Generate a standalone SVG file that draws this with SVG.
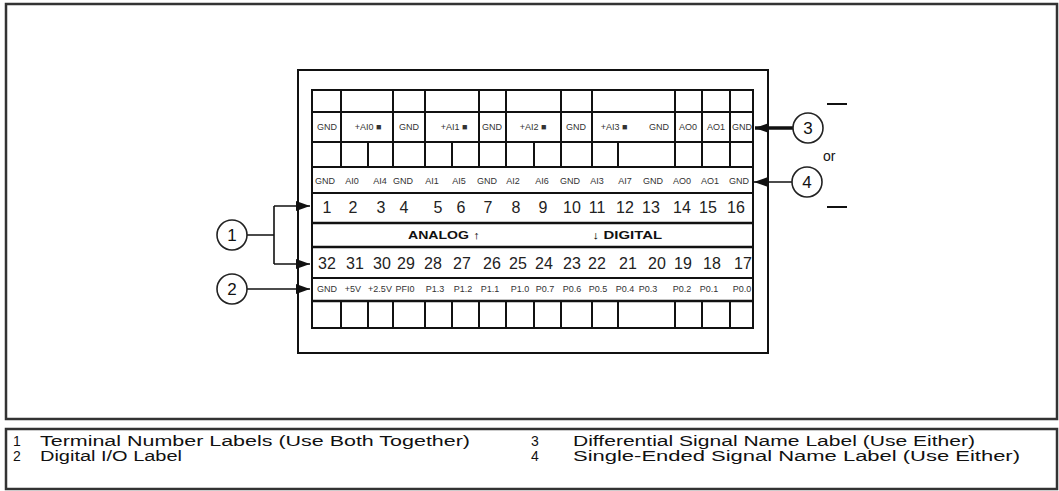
<svg xmlns="http://www.w3.org/2000/svg" width="1059" height="491" viewBox="0 0 1059 491">
<defs>
<marker id="ah" markerUnits="userSpaceOnUse" markerWidth="14" markerHeight="10" refX="14" refY="5" orient="auto">
<path d="M0,0 L14,5 L0,10 z" fill="#111"/>
</marker>
</defs>
<style>
.frame{fill:#fff;stroke:#333;stroke-width:2.5}
.ln{stroke:#111;stroke-width:2;fill:none}
.thk{stroke:#111;stroke-width:2.6;fill:none}
.sm{font-family:"Liberation Sans",Arial,sans-serif;font-size:9px;fill:#333;text-anchor:middle}
.num{font-family:"Liberation Sans",Arial,sans-serif;font-size:16px;fill:#222;text-anchor:middle}
.ad{font-family:"Liberation Sans",Arial,sans-serif;font-size:11px;font-weight:bold;fill:#111;text-anchor:middle}
.leg{font-family:"Liberation Sans",Arial,sans-serif;font-size:14px;fill:#111}
.call{fill:#fff;stroke:#222;stroke-width:1.6}
.cn{font-family:"Liberation Sans",Arial,sans-serif;font-size:17px;fill:#111;text-anchor:middle}
.con{stroke:#111;stroke-width:1.6;fill:none}
</style>
<rect class="frame" x="6" y="4" width="1051" height="415"/>
<rect class="frame" x="6" y="429" width="1051" height="60"/>

<g id="panel">
<rect x="298" y="70" width="470" height="283" fill="#fff" stroke="#111" stroke-width="2"/>
<rect class="ln" x="312" y="90" width="441" height="238"/>
<path class="ln" d="M312,112H753 M312,142H753 M312,167H753 M312,193H753"/>
<path class="thk" d="M312,223H753 M312,247H753 M312,301H753"/>
<path class="ln" d="M312,278H753"/>
<path class="ln" d="M341,90V142 M393,90V142 M425,90V142 M479,90V142 M506,90V142 M561,90V142 M592,90V142 M675,90V142 M702,90V142 M730,90V142"/>
<path class="ln" d="M341,142V167 M368,142V167 M393,142V167 M425,142V167 M452,142V167 M479,142V167 M506,142V167 M534,142V167 M561,142V167 M592,142V167 M618,142V167 M675,142V167 M702,142V167 M730,142V167"/>
<path class="ln" d="M341,301V328 M368,301V328 M393,301V328 M425,301V328 M452,301V328 M479,301V328 M506,301V328 M534,301V328 M561,301V328 M592,301V328 M618,301V328 M675,301V328 M702,301V328 M730,301V328"/>

<g id="diff-labels">
<text class="sm" x="327" y="130">GND</text>
<text class="sm" x="368" y="130">+AI0 ■</text>
<text class="sm" x="409" y="130">GND</text>
<text class="sm" x="454" y="130">+AI1 ■</text>
<text class="sm" x="492" y="130">GND</text>
<text class="sm" x="533" y="130">+AI2 ■</text>
<text class="sm" x="576" y="130">GND</text>
<text class="sm" x="614" y="130">+AI3 ■</text>
<text class="sm" x="659" y="130">GND</text>
<text class="sm" x="688" y="130">AO0</text>
<text class="sm" x="716" y="130">AO1</text>
<text class="sm" x="742" y="130">GND</text>
</g>
<g id="se-labels">
<text class="sm" x="325" y="184">GND</text>
<text class="sm" x="352" y="184">AI0</text>
<text class="sm" x="380" y="184">AI4</text>
<text class="sm" x="403" y="184">GND</text>
<text class="sm" x="432" y="184">AI1</text>
<text class="sm" x="459" y="184">AI5</text>
<text class="sm" x="487" y="184">GND</text>
<text class="sm" x="513" y="184">AI2</text>
<text class="sm" x="542" y="184">AI6</text>
<text class="sm" x="570" y="184">GND</text>
<text class="sm" x="597" y="184">AI3</text>
<text class="sm" x="625" y="184">AI7</text>
<text class="sm" x="653" y="184">GND</text>
<text class="sm" x="682" y="184">AO0</text>
<text class="sm" x="710" y="184">AO1</text>
<text class="sm" x="739" y="184">GND</text>
</g>
<g id="numbers-top">
<text class="num" x="327" y="213">1</text>
<text class="num" x="353" y="213">2</text>
<text class="num" x="381" y="213">3</text>
<text class="num" x="404" y="213">4</text>
<text class="num" x="438" y="213">5</text>
<text class="num" x="461" y="213">6</text>
<text class="num" x="488" y="213">7</text>
<text class="num" x="516" y="213">8</text>
<text class="num" x="543" y="213">9</text>
<text class="num" x="572" y="213">10</text>
<text class="num" x="597" y="213">11</text>
<text class="num" x="625" y="213">12</text>
<text class="num" x="651" y="213">13</text>
<text class="num" x="682" y="213">14</text>
<text class="num" x="708" y="213">15</text>
<text class="num" x="736" y="213">16</text>
</g>
<g id="analog-digital">
<text class="ad" x="444" y="239" textLength="72" lengthAdjust="spacingAndGlyphs">ANALOG ↑</text>
<text class="ad" x="627" y="239" textLength="70" lengthAdjust="spacingAndGlyphs">↓ DIGITAL</text>
</g>
<g id="numbers-bottom">
<text class="num" x="327" y="269">32</text>
<text class="num" x="355" y="269">31</text>
<text class="num" x="382" y="269">30</text>
<text class="num" x="406" y="269">29</text>
<text class="num" x="433" y="269">28</text>
<text class="num" x="462" y="269">27</text>
<text class="num" x="492" y="269">26</text>
<text class="num" x="518" y="269">25</text>
<text class="num" x="544" y="269">24</text>
<text class="num" x="572" y="269">23</text>
<text class="num" x="597" y="269">22</text>
<text class="num" x="628" y="269">21</text>
<text class="num" x="657" y="269">20</text>
<text class="num" x="683" y="269">19</text>
<text class="num" x="712" y="269">18</text>
<text class="num" x="743" y="269">17</text>
</g>
<g id="dio-labels">
<text class="sm" x="327" y="292">GND</text>
<text class="sm" x="353" y="292">+5V</text>
<text class="sm" x="380" y="292">+2.5V</text>
<text class="sm" x="405" y="292">PFI0</text>
<text class="sm" x="435" y="292">P1.3</text>
<text class="sm" x="463" y="292">P1.2</text>
<text class="sm" x="490" y="292">P1.1</text>
<text class="sm" x="520" y="292">P1.0</text>
<text class="sm" x="545" y="292">P0.7</text>
<text class="sm" x="572" y="292">P0.6</text>
<text class="sm" x="598" y="292">P0.5</text>
<text class="sm" x="625" y="292">P0.4</text>
<text class="sm" x="648" y="292">P0.3</text>
<text class="sm" x="682" y="292">P0.2</text>
<text class="sm" x="709" y="292">P0.1</text>
<text class="sm" x="742" y="292">P0.0</text>
</g>
</g>

<g id="connectors">
<path class="con" d="M247,235H274 M274,206V264"/>
<line class="con" x1="274" y1="206" x2="310" y2="206" marker-end="url(#ah)"/>
<line class="con" x1="274" y1="264" x2="310" y2="264" marker-end="url(#ah)"/>
<line class="con" x1="247" y1="289" x2="310" y2="289" marker-end="url(#ah)"/>
<line x1="793" y1="128" x2="755" y2="128" stroke="#111" stroke-width="3.5" marker-end="url(#ah)"/>
<line class="con" x1="792" y1="182" x2="754" y2="182" marker-end="url(#ah)"/>
</g>

<g id="callout-1"><circle class="call" cx="232" cy="235" r="15"/><text class="cn" x="232" y="241">1</text></g>
<g id="callout-2"><circle class="call" cx="232" cy="289" r="15"/><text class="cn" x="232" y="295">2</text></g>
<g id="callout-3"><circle class="call" cx="808" cy="128" r="15"/><text class="cn" x="808" y="134">3</text></g>
<g id="callout-4"><circle class="call" cx="807" cy="182" r="15"/><text class="cn" x="807" y="188">4</text></g>
<g id="or-note">
<path stroke="#111" stroke-width="1.8" d="M827,104H847 M827,207H847"/>
<text class="leg" x="823" y="161" font-size="12">or</text>
</g>

<g id="legend">
<text class="leg" x="13" y="446">1</text>
<text class="leg" x="40" y="446" textLength="430" lengthAdjust="spacingAndGlyphs">Terminal Number Labels (Use Both Together)</text>
<text class="leg" x="13" y="461">2</text>
<text class="leg" x="40" y="461" textLength="142" lengthAdjust="spacingAndGlyphs">Digital I/O Label</text>
<text class="leg" x="531" y="446">3</text>
<text class="leg" x="573" y="446" textLength="402" lengthAdjust="spacingAndGlyphs">Differential Signal Name Label (Use Either)</text>
<text class="leg" x="531" y="461">4</text>
<text class="leg" x="573" y="461" textLength="447" lengthAdjust="spacingAndGlyphs">Single-Ended Signal Name Label (Use Either)</text>
</g>
</svg>
